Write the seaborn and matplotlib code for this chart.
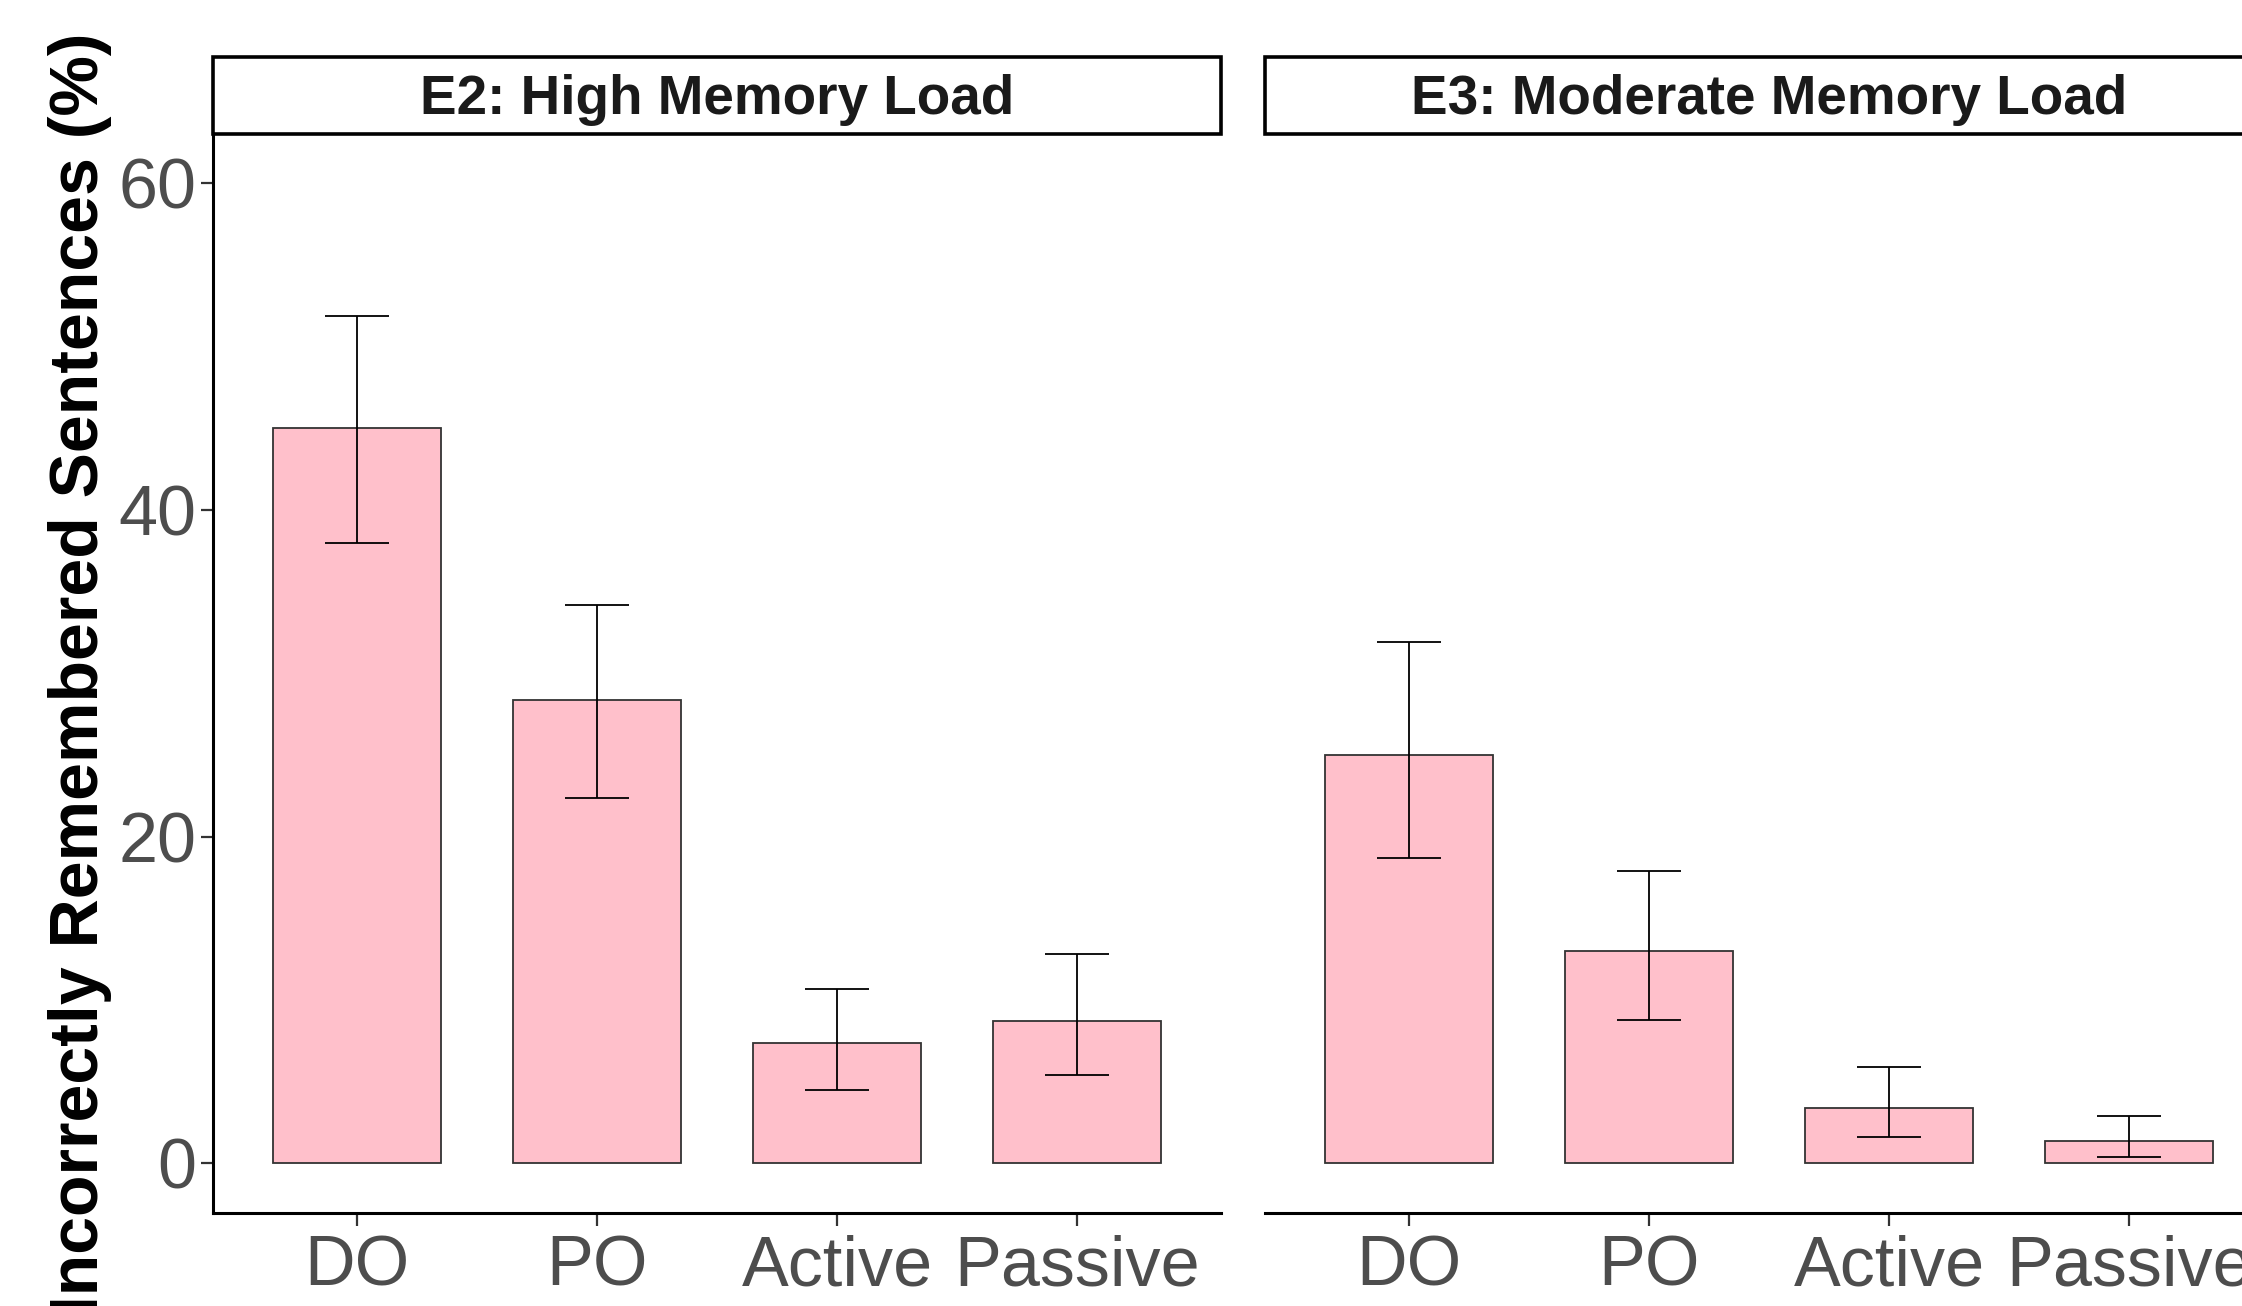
import matplotlib
matplotlib.use("Agg")
import matplotlib.pyplot as plt
import seaborn as sns
import pandas as pd
import numpy as np
from matplotlib.patches import Rectangle

sns.set_theme(style="white")
plt.rcParams['font.family'] = ['Liberation Sans', 'DejaVu Sans']

conditions = ["DO", "PO", "Active", "Passive"]
panels = ["E2: High Memory Load", "E3: Moderate Memory Load"]
e2_mean = [45.0, 28.4, 7.4, 8.7]
e2_low = [38.0, 22.4, 4.5, 5.4]
e2_high = [51.9, 34.2, 10.7, 12.8]
e3_mean = [25.0, 13.0, 3.4, 1.4]
e3_low = [18.7, 8.8, 1.6, 0.4]
e3_high = [31.9, 17.9, 5.9, 2.9]
y_ticks = [0, 20, 40, 60]
y_label = "Incorrectly Remembered Sentences (%)"

W, H = 2242, 1306
fig = plt.figure(figsize=(W / 100, H / 100), dpi=100)

tick_col = "#4D4D4D"
ax_left = [213 / W, 1265 / W]
ax_w = 1008 / W
ax_b = 1 - 1212.5 / H
ax_h = (1212.5 - 134.4) / H
strip_h = (134.4 - 57.2) / H

series = [(e2_mean, e2_low, e2_high), (e3_mean, e3_low, e3_high)]
for i, (title, (m, lo, hi)) in enumerate(zip(panels, series)):
    ax = fig.add_axes([ax_left[i], ax_b, ax_w, ax_h])
    df = pd.DataFrame({"cond": conditions, "val": m})
    sns.barplot(data=df, x="cond", y="val", order=conditions, color="#FFC0CB",
                saturation=1, width=0.7, edgecolor="#333333", linewidth=1.3,
                errorbar=None, ax=ax)
    xs = np.arange(len(conditions))
    m_a, lo_a, hi_a = np.array(m), np.array(lo), np.array(hi)
    ax.errorbar(xs, m_a, yerr=[m_a - lo_a, hi_a - m_a], fmt="none",
                ecolor="black", elinewidth=1.3, capsize=23, capthick=1.3)
    ax.set_xlim(-0.6, 3.6)
    ax.set_ylim(-3.0, 63.0)
    ax.set_xlabel("")
    ax.set_ylabel("")
    ax.set_yticks(y_ticks)
    for s in ["top", "right"]:
        ax.spines[s].set_visible(False)
    ax.spines["bottom"].set_color("black")
    ax.spines["bottom"].set_linewidth(2.2)
    ax.tick_params(axis="x", length=9, width=1.6, color="#333333",
                   labelsize=50.5, labelcolor=tick_col, pad=7, bottom=True)
    if i == 0:
        ax.spines["left"].set_color("black")
        ax.spines["left"].set_linewidth(2.2)
        ax.tick_params(axis="y", length=9, width=1.6, color="#333333",
                       labelsize=50.5, labelcolor=tick_col, pad=3, left=True)
    else:
        ax.spines["left"].set_visible(False)
        ax.tick_params(axis="y", left=False, labelleft=False)
    # facet strip
    sax = fig.add_axes([ax_left[i], ax_b + ax_h, ax_w, strip_h])
    sax.set_xlim(0, 1)
    sax.set_ylim(0, 1)
    sax.axis("off")
    sax.add_patch(Rectangle((0, 0), 1, 1, transform=sax.transAxes, facecolor="white",
                            edgecolor="black", linewidth=2.6, clip_on=False))
    sax.text(0.5, 0.45, title, ha="center", va="center", fontsize=39.5,
             fontweight="bold", color="#1A1A1A", transform=sax.transAxes)

fig.text(80 / W, 1 - 673.4 / H, y_label, rotation=90, ha="center", va="center",
         fontsize=49, fontweight="bold", color="black")

fig.savefig("out.png", dpi=100, facecolor="white")
